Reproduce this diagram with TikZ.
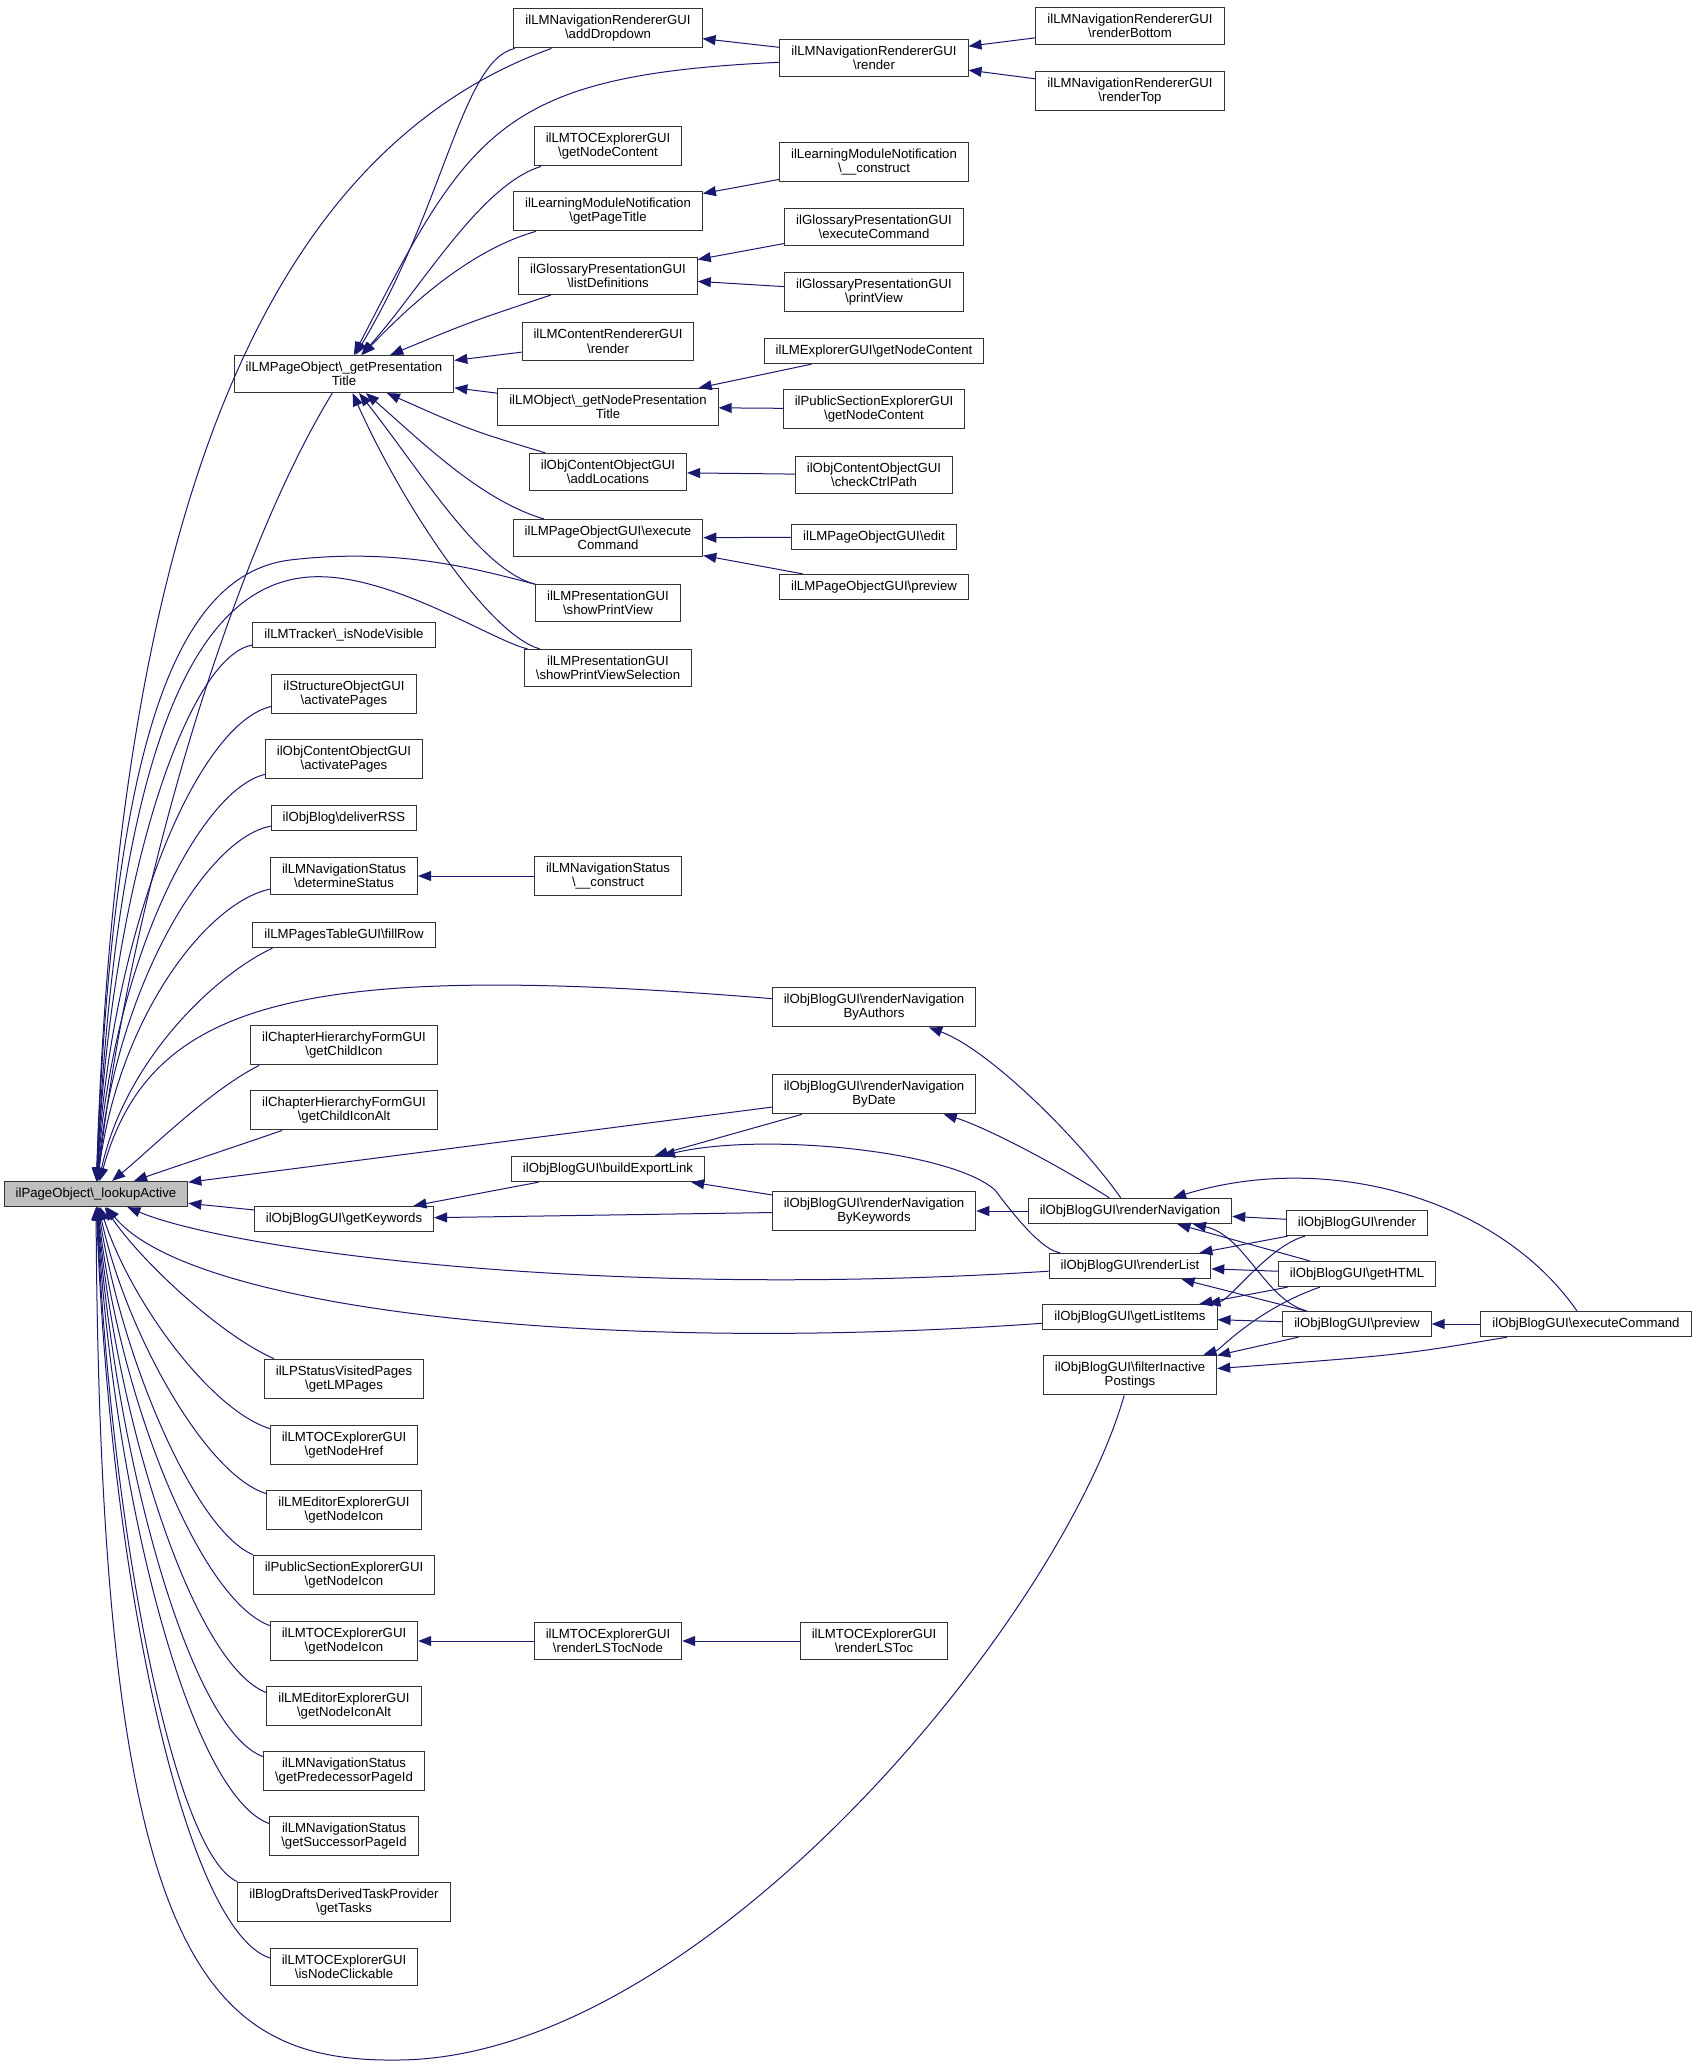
\documentclass[tikz,border=0pt]{standalone}
\usepackage{fontspec}
\setmainfont{Liberation Sans}
\usetikzlibrary{arrows.meta}
\definecolor{midnight}{RGB}{25,25,112}
\newcommand{\bsl}{\textbackslash}

\begin{document}
\begin{tikzpicture}[x=1pt,y=1pt]
   \tikzstyle{every node}=[draw=black!80, line width=1pt, fill=white, align=center, inner xsep=11.5pt, inner ysep=6.5pt, minimum height=25pt, font=\fontsize{13.2}{14.5}\selectfont]
   \tikzstyle{root}=[fill=black!25]
   \tikzstyle{call}=[<-, >={Triangle[length=13pt,width=10pt]}, draw=midnight, line width=1pt]

\path[use as bounding box, fill=white] (0,0) rectangle (1696,-2066);

\node[root] (lookupActive) at (96,-1194) {ilPageObject\bsl\_lookupActive};
\node (presTitle) at (344,-374) {ilLMPageObject\bsl\_getPresentation\\Title};
\node (addDropdown) at (608,-28) {ilLMNavigationRendererGUI\\\bsl addDropdown};
\node (navRender) at (874,-58) {ilLMNavigationRendererGUI\\\bsl render};
\node (renderBottom) at (1130,-26) {ilLMNavigationRendererGUI\\\bsl renderBottom};
\node (renderTop) at (1130,-91) {ilLMNavigationRendererGUI\\\bsl renderTop};
\node (tocContent) at (608,-146) {ilLMTOCExplorerGUI\\\bsl getNodeContent};
\node (pageTitle) at (608,-211) {ilLearningModuleNotification\\\bsl getPageTitle};
\node (lmnConstruct) at (874,-162) {ilLearningModuleNotification\\\bsl\_\_construct};
\node (listDefs) at (608,-276) {ilGlossaryPresentationGUI\\\bsl listDefinitions};
\node (glossExec) at (874,-227) {ilGlossaryPresentationGUI\\\bsl executeCommand};
\node (glossPrint) at (874,-292) {ilGlossaryPresentationGUI\\\bsl printView};
\node (contentRender) at (608,-341.5) {ilLMContentRendererGUI\\\bsl render};
\node (nodePresTitle) at (608,-407) {ilLMObject\bsl\_getNodePresentation\\Title};
\node (explContent) at (874,-351) {ilLMExplorerGUI\bsl getNodeContent};
\node (pubContent) at (874,-409) {ilPublicSectionExplorerGUI\\\bsl getNodeContent};
\node (addLocations) at (608,-472) {ilObjContentObjectGUI\\\bsl addLocations};
\node (checkCtrl) at (874,-475) {ilObjContentObjectGUI\\\bsl checkCtrlPath};
\node (pageExec) at (608,-538) {ilLMPageObjectGUI\bsl execute\\Command};
\node (pageEdit) at (874,-537) {ilLMPageObjectGUI\bsl edit};
\node (pagePreview) at (874,-587) {ilLMPageObjectGUI\bsl preview};
\node (printView) at (608,-603) {ilLMPresentationGUI\\\bsl showPrintView};
\node (printSel) at (608,-668) {ilLMPresentationGUI\\\bsl showPrintViewSelection};
\node (nodeVisible) at (344,-635) {ilLMTracker\bsl\_isNodeVisible};
\node (structPages) at (344,-694) {ilStructureObjectGUI\\\bsl activatePages};
\node (coPages) at (344,-759) {ilObjContentObjectGUI\\\bsl activatePages};
\node (deliverRSS) at (344,-818) {ilObjBlog\bsl deliverRSS};
\node (detStatus) at (344,-876) {ilLMNavigationStatus\\\bsl determineStatus};
\node (navConstruct) at (608,-876) {ilLMNavigationStatus\\\bsl\_\_construct};
\node (fillRow) at (344,-935) {ilLMPagesTableGUI\bsl fillRow};
\node (byAuthors) at (874,-1007) {ilObjBlogGUI\bsl renderNavigation\\ByAuthors};
\node (childIcon) at (344,-1045) {ilChapterHierarchyFormGUI\\\bsl getChildIcon};
\node (childIconAlt) at (344,-1110) {ilChapterHierarchyFormGUI\\\bsl getChildIconAlt};
\node (byDate) at (874,-1094) {ilObjBlogGUI\bsl renderNavigation\\ByDate};
\node (exportLink) at (608,-1169) {ilObjBlogGUI\bsl buildExportLink};
\node (getKeywords) at (344,-1219) {ilObjBlogGUI\bsl getKeywords};
\node (byKeywords) at (874,-1211) {ilObjBlogGUI\bsl renderNavigation\\ByKeywords};
\node (renderNav) at (1130,-1211) {ilObjBlogGUI\bsl renderNavigation};
\node (blogRender) at (1357,-1223) {ilObjBlogGUI\bsl render};
\node (renderList) at (1130,-1266) {ilObjBlogGUI\bsl renderList};
\node (getHTML) at (1357,-1274) {ilObjBlogGUI\bsl getHTML};
\node (listItems) at (1130,-1317) {ilObjBlogGUI\bsl getListItems};
\node (blogPreview) at (1357,-1324) {ilObjBlogGUI\bsl preview};
\node (blogExec) at (1586,-1324) {ilObjBlogGUI\bsl executeCommand};
\node (filterInactive) at (1130,-1375) {ilObjBlogGUI\bsl filterInactive\\Postings};
\node (lmPages) at (344,-1379) {ilLPStatusVisitedPages\\\bsl getLMPages};
\node (nodeHref) at (344,-1445) {ilLMTOCExplorerGUI\\\bsl getNodeHref};
\node (editorIcon) at (344,-1510) {ilLMEditorExplorerGUI\\\bsl getNodeIcon};
\node (pubIcon) at (344,-1575) {ilPublicSectionExplorerGUI\\\bsl getNodeIcon};
\node (tocIcon) at (344,-1641) {ilLMTOCExplorerGUI\\\bsl getNodeIcon};
\node (lsTocNode) at (608,-1641) {ilLMTOCExplorerGUI\\\bsl renderLSTocNode};
\node (lsToc) at (874,-1641) {ilLMTOCExplorerGUI\\\bsl renderLSToc};
\node (editorIconAlt) at (344,-1706) {ilLMEditorExplorerGUI\\\bsl getNodeIconAlt};
\node (predPage) at (344,-1771) {ilLMNavigationStatus\\\bsl getPredecessorPageId};
\node (succPage) at (344,-1836) {ilLMNavigationStatus\\\bsl getSuccessorPageId};
\node (getTasks) at (344,-1902) {ilBlogDraftsDerivedTaskProvider\\\bsl getTasks};
\node (nodeClickable) at (344,-1967) {ilLMTOCExplorerGUI\\\bsl isNodeClickable};

\draw[call] (lookupActive) .. controls (118,-500) and (270,-150) .. (addDropdown);
\draw[call] (lookupActive) .. controls (130,-900) and (230,-560) .. (presTitle);
\draw[call] (lookupActive) .. controls (112,-760) and (170,-575) .. (290,-560) .. controls (400,-547) and (480,-570) .. (printView);
\draw[call] (lookupActive) .. controls (115,-790) and (180,-595) .. (300,-578) .. controls (380,-566) and (490,-640) .. (printSel);
\draw[call] (presTitle) .. controls (445,-205) and (462,-60) .. (addDropdown);
\draw[call] (presTitle) .. controls (470,-130) and (500,-75) .. (navRender);
\draw[call] (presTitle) .. controls (420,-290) and (480,-185) .. (tocContent);
\draw[call] (presTitle) .. controls (410,-305) and (470,-250) .. (pageTitle);
\draw[call] (presTitle) .. controls (470,-322) .. (listDefs);
\draw[call] (presTitle) -- (contentRender);
\draw[call] (presTitle) -- (nodePresTitle);
\draw[call] (presTitle) .. controls (470,-430) .. (addLocations);
\draw[call] (presTitle) .. controls (420,-440) and (480,-500) .. (pageExec);
\draw[call] (presTitle) .. controls (420,-470) and (480,-570) .. (printView);
\draw[call] (presTitle) .. controls (405,-510) and (490,-635) .. (printSel);
\draw[call] (addDropdown) -- (navRender);
\draw[call] (navRender) -- (renderBottom);
\draw[call] (navRender) -- (renderTop);
\draw[call] (pageTitle) -- (lmnConstruct);
\draw[call] (listDefs) -- (glossExec);
\draw[call] (listDefs) -- (glossPrint);
\draw[call] (nodePresTitle) -- (explContent);
\draw[call] (nodePresTitle) -- (pubContent);
\draw[call] (addLocations) -- (checkCtrl);
\draw[call] (pageExec) -- (pageEdit);
\draw[call] (pageExec) -- (pagePreview);
\draw[call] (detStatus) -- (navConstruct);
\draw[call] (tocIcon) -- (lsTocNode);
\draw[call] (lsTocNode) -- (lsToc);

\draw[call] (lookupActive) .. controls (112,-870) and (190,-655) .. ([yshift=3pt]nodeVisible.south west);
\draw[call] (lookupActive) .. controls (112,-920) and (200,-722) .. ([yshift=8pt]structPages.south west);
\draw[call] (lookupActive) .. controls (113,-960) and (200,-790) .. ([yshift=5pt]coPages.south west);
\draw[call] (lookupActive) .. controls (115,-990) and (205,-838) .. ([yshift=5pt]deliverRSS.south west);
\draw[call] (lookupActive) .. controls (118,-1020) and (205,-903) .. ([yshift=6pt]detStatus.south west);
\draw[call] (lookupActive) .. controls (125,-1060) and (215,-975) .. ([xshift=20pt]fillRow.south west);
\draw[call] (lookupActive) .. controls (150,-1150) and (210,-1090) .. ([xshift=9pt]childIcon.south west);
\draw[call] (lookupActive) .. controls (180,-1165) and (240,-1145) .. ([xshift=32pt]childIconAlt.south west);
\draw[call] (lookupActive) .. controls (150,-1000) and (300,-960) .. (byAuthors);
\draw[call] (lookupActive) -- (byDate);
\draw[call] (lookupActive) -- (getKeywords);

\draw[call] (lookupActive) .. controls (230,-1250) and (600,-1300) .. (renderList);
\draw[call] (lookupActive) .. controls (190,-1310) and (600,-1355) .. (listItems);
\draw[call] (lookupActive) .. controls (140,-1260) and (220,-1335) .. ([xshift=10pt]lmPages.north west);
\draw[call] (lookupActive) .. controls (130,-1300) and (210,-1410) .. ([yshift=-4pt]nodeHref.north west);
\draw[call] (lookupActive) .. controls (125,-1330) and (205,-1475) .. ([yshift=-4pt]editorIcon.north west);
\draw[call] (lookupActive) .. controls (122,-1360) and (195,-1530) .. (pubIcon.north west);
\draw[call] (lookupActive) .. controls (120,-1400) and (200,-1600) .. ([yshift=-5pt]tocIcon.north west);
\draw[call] (lookupActive) .. controls (118,-1430) and (195,-1665) .. ([yshift=-7pt]editorIconAlt.north west);
\draw[call] (lookupActive) .. controls (116,-1460) and (190,-1730) .. ([yshift=-6pt]predPage.north west);
\draw[call] (lookupActive) .. controls (114,-1500) and (190,-1795) .. ([yshift=-8pt]succPage.north west);
\draw[call] (lookupActive) .. controls (112,-1540) and (175,-1855) .. (getTasks.north west);
\draw[call] (lookupActive) .. controls (110,-1580) and (185,-1930) .. ([yshift=-10pt]nodeClickable.north west);
\draw[call] (lookupActive) .. controls (100,-1950) and (200,-2062) .. (396,-2060) .. controls (700,-2060) and (1060,-1620) .. (filterInactive);

\draw[call] (getKeywords) -- (exportLink);
\draw[call] (getKeywords) -- (byKeywords);
\draw[call] (exportLink) -- (byDate);
\draw[call] (exportLink) -- (byKeywords);
\draw[call] (exportLink) .. controls (760,-1132) and (950,-1150) .. (995,-1190) .. controls (1025,-1230) and (1045,-1250) .. (renderList);
\draw[call] (byAuthors) .. controls (990,-1050) and (1080,-1140) .. (renderNav);
\draw[call] (byDate) .. controls (980,-1125) and (1050,-1160) .. (renderNav);
\draw[call] (byKeywords) -- (renderNav);
\draw[call] (renderNav) -- (blogRender);
\draw[call] (renderNav) -- (getHTML);
\draw[call] (renderNav) .. controls (1245,-1235) and (1265,-1300) .. (blogPreview);
\draw[call] (renderNav) .. controls (1330,-1150) and (1500,-1200) .. (blogExec);
\draw[call] (renderList) -- (blogRender);
\draw[call] (renderList) -- (getHTML);
\draw[call] (renderList) -- (blogPreview);
\draw[call] (listItems) .. controls (1230,-1300) and (1270,-1245) .. (blogRender);
\draw[call] (listItems) -- (getHTML);
\draw[call] (listItems) -- (blogPreview);
\draw[call] (filterInactive) .. controls (1220,-1350) and (1255,-1310) .. (getHTML);
\draw[call] (filterInactive) -- (blogPreview);
\draw[call] (filterInactive) .. controls (1400,-1355) .. (blogExec);
\draw[call] (blogPreview) -- (blogExec);

\end{tikzpicture}
\end{document}
